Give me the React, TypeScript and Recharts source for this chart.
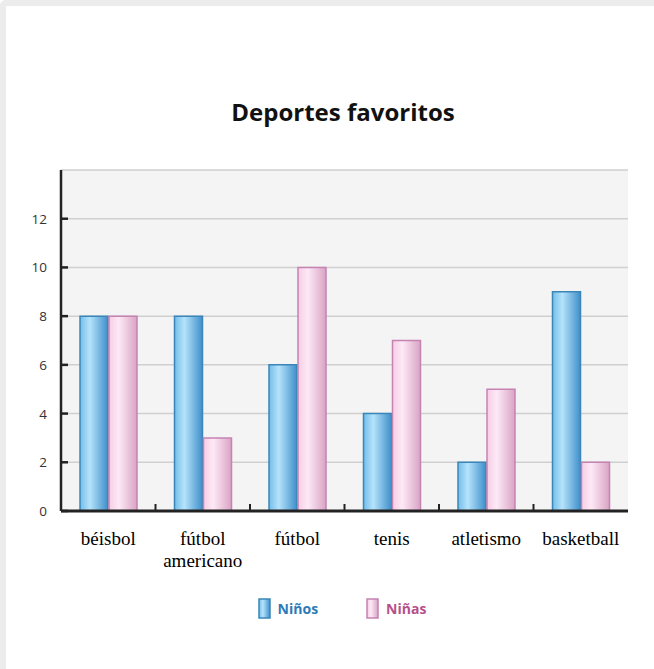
import { BarChart, Bar, XAxis, YAxis, CartesianGrid } from 'recharts'

const categories = ['béisbol', 'fútbol americano', 'fútbol', 'tenis', 'atletismo', 'basketball']
const ninos = [8, 8, 6, 4, 2, 9]
const ninas = [8, 3, 10, 7, 5, 2]
const yTicks = [0, 2, 4, 6, 8, 10, 12]

const chartData = categories.map((name, i) => ({ name, ninos: ninos[i], ninas: ninas[i] }))

const CHART_W = 654
const CHART_H = 669
const MARGIN = { top: 170, right: 26, left: 0, bottom: 98 }
const Y_AXIS_W = 61
const BAND = (CHART_W - MARGIN.left - MARGIN.right - Y_AXIS_W) / categories.length

function CategoryTick({ x, y, payload, index }: any) {
  const lines = String(payload.value).split(' ')
  return (
    <g>
      {index > 0 && (
        <line x1={x - BAND / 2} x2={x - BAND / 2} y1={y - 15} y2={y - 7} stroke="#222" strokeWidth={2} />
      )}
      <text
        x={x}
        y={y + 26}
        textAnchor="middle"
        fontFamily="'Liberation Serif', serif"
        fontSize={19}
        fill="#000"
      >
        {lines.map((l, i) => (
          <tspan key={i} x={x} dy={i === 0 ? 0 : 22}>
            {l}
          </tspan>
        ))}
      </text>
    </g>
  )
}

function ValueTick({ x, y, payload }: any) {
  return (
    <g>
      <line x1={x + 8} x2={x + 15} y1={y} y2={y} stroke="#222" strokeWidth={2.5} />
      <text
        x={x - 6}
        y={y + 5}
        textAnchor="end"
        fontFamily="'Open Sans', sans-serif"
        fontSize={13.5}
        fill="#333"
      >
        {payload.value}
      </text>
    </g>
  )
}

const legendItems = [
  { label: 'Niños', fill: 'url(#blueBar)', stroke: '#3a86b8', color: '#2b7bb9' },
  { label: 'Niñas', fill: 'url(#pinkBar)', stroke: '#c583b2', color: '#b5508d' },
]

function ChartLegend() {
  return (
    <div
      style={{
        position: 'absolute',
        top: 598,
        left: 0,
        width: CHART_W,
        display: 'flex',
        justifyContent: 'center',
        gap: 48,
        paddingLeft: 30,
        boxSizing: 'border-box',
      }}
    >
      {legendItems.map((it) => (
        <div key={it.label} style={{ display: 'flex', alignItems: 'center', gap: 7 }}>
          <svg width={13} height={21}>
            <rect x={1} y={1} width={11} height={19} fill={it.fill} stroke={it.stroke} strokeWidth={1.5} />
          </svg>
          <span
            style={{
              fontFamily: "'Open Sans', sans-serif",
              fontWeight: 700,
              fontSize: 14,
              color: it.color,
            }}
          >
            {it.label}
          </span>
        </div>
      ))}
    </div>
  )
}

export default function App() {
  return (
    <div style={{ position: 'absolute', left: 0, top: 0, width: CHART_W, height: CHART_H, background: '#fff' }}>
      <div
        style={{
          position: 'absolute',
          left: 0,
          top: 0,
          width: CHART_W,
          height: CHART_H,
          borderTop: '6px solid #ececec',
          borderLeft: '6px solid #ececec',
          borderTopLeftRadius: 6,
          boxSizing: 'border-box',
        }}
      />
      <div
        style={{
          position: 'absolute',
          top: 95,
          left: 16,
          width: CHART_W,
          textAlign: 'center',
          fontFamily: "'Open Sans', sans-serif",
          fontWeight: 700,
          fontSize: 24,
          color: '#111',
        }}
      >
        Deportes favoritos
      </div>
      <div style={{ position: 'absolute', left: 0, top: 0 }}>
        <svg width={0} height={0} style={{ position: 'absolute' }}>
          <defs>
            <linearGradient id="blueBar" x1="0" y1="0" x2="1" y2="0">
              <stop offset="0%" stopColor="#74bde9" />
              <stop offset="35%" stopColor="#b5e3fb" />
              <stop offset="100%" stopColor="#3f8fca" />
            </linearGradient>
            <linearGradient id="pinkBar" x1="0" y1="0" x2="1" y2="0">
              <stop offset="0%" stopColor="#f6cde5" />
              <stop offset="35%" stopColor="#fde9f6" />
              <stop offset="100%" stopColor="#d9a3c4" />
            </linearGradient>
          </defs>
        </svg>
        <BarChart
          width={CHART_W}
          height={CHART_H}
          data={chartData}
          margin={MARGIN}
          barSize={28}
          barGap={1}
        >
          <CartesianGrid vertical={false} stroke="#cfcfcf" strokeWidth={1.5} fill="#f4f4f4" />
          <XAxis
            dataKey="name"
            interval={0}
            tickLine={false}
            axisLine={{ stroke: '#222', strokeWidth: 3 }}
            tick={<CategoryTick />}
            height={60}
          />
          <YAxis
            domain={[0, 14]}
            ticks={yTicks}
            width={Y_AXIS_W}
            tickLine={false}
            axisLine={{ stroke: '#222', strokeWidth: 2.5 }}
            tick={<ValueTick />}
          />
          <Bar dataKey="ninos" name="Niños" fill="url(#blueBar)" stroke="#3a86b8" strokeWidth={1.5} isAnimationActive={false} />
          <Bar dataKey="ninas" name="Niñas" fill="url(#pinkBar)" stroke="#c583b2" strokeWidth={1.5} isAnimationActive={false} />
        </BarChart>
      </div>
      <ChartLegend />
    </div>
  )
}
